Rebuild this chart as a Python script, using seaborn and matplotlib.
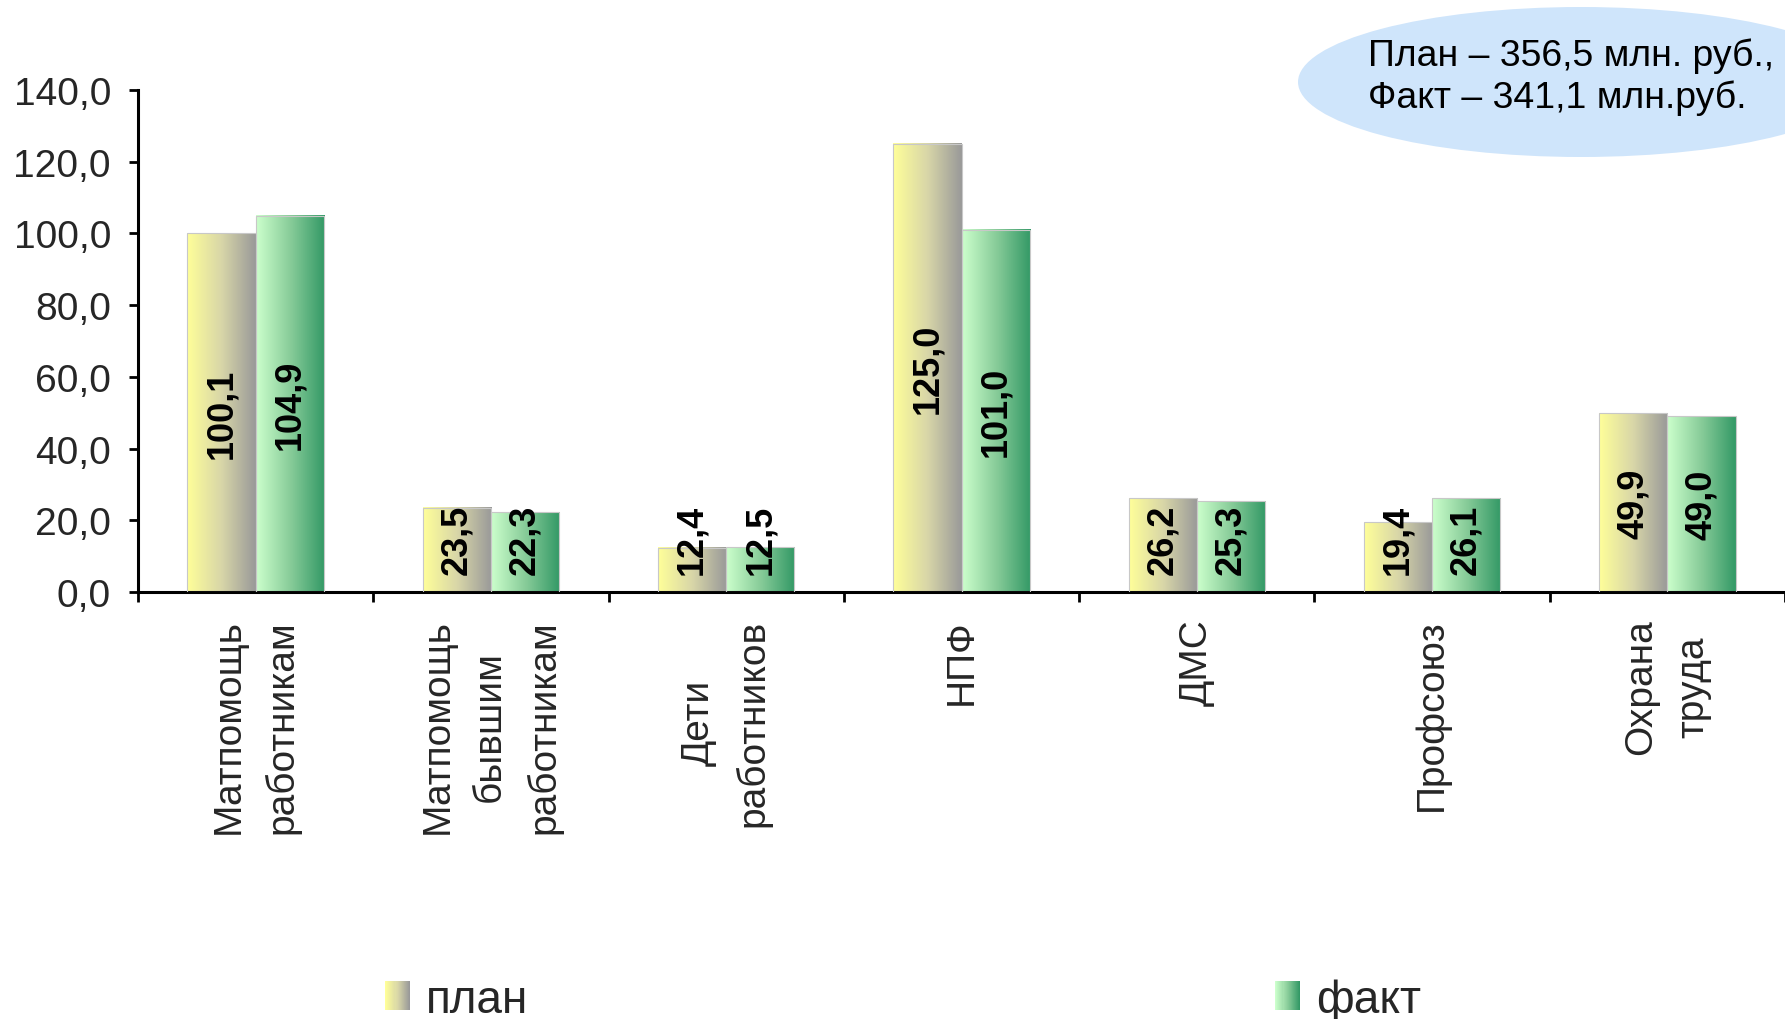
import numpy as np
import pandas as pd
import matplotlib
matplotlib.use("Agg")
import matplotlib.pyplot as plt
import seaborn as sns
from matplotlib.patches import Ellipse, Rectangle, Patch
from matplotlib.colors import LinearSegmentedColormap, to_hex
from matplotlib.legend_handler import HandlerBase

# ---------------- data ----------------
categories = ["Матпомощь\nработникам", "Матпомощь\nбывшим\nработникам",
              "Дети\nработников", "НПФ", "ДМС", "Профсоюз", "Охрана\nтруда"]
plan = [100.1, 23.5, 12.4, 125.0, 26.2, 19.4, 49.9]
fact = [104.9, 22.3, 12.5, 101.0, 25.3, 26.1, 49.0]
series = ["план", "факт"]
yticks = [0, 20, 40, 60, 80, 100, 120, 140]
note = "План – 356,5 млн. руб.,\nФакт – 341,1 млн.руб."

df = pd.DataFrame({
    "cat": categories * 2,
    "series": [series[0]] * len(plan) + [series[1]] * len(fact),
    "value": plan + fact,
})

# ---------------- style ----------------
sns.set_style("white")
plt.rcParams["font.family"] = ["Liberation Sans", "DejaVu Sans"]

base_colors = {"план": "#FFFF99", "факт": "#CCFFCC"}
cmaps = {
    "план": LinearSegmentedColormap.from_list("plan", ["#FFFF99", "#D8D6A8", "#999999"]),
    "факт": LinearSegmentedColormap.from_list("fact", ["#CCFFCC", "#88CC99", "#339966"]),
}

fig = plt.figure(figsize=(17.85, 10.2), dpi=100)
ax = fig.add_axes([138 / 1785, 427 / 1020, 1 - 138 / 1785, 502 / 1020])
ax.patch.set_visible(False)

sns.barplot(data=df, x="cat", y="value", hue="series", palette=base_colors,
            width=0.58, gap=0, dodge=True, legend=False, saturation=1,
            edgecolor="#C8C8C8", linewidth=0.8, ax=ax)

grad = np.linspace(0, 1, 256).reshape(1, -1)
plan_hex = to_hex(base_colors["план"])
for p in list(ax.patches):
    key = "план" if to_hex(p.get_facecolor()) == plan_hex else "факт"
    x, y, w, h = p.get_x(), p.get_y(), p.get_width(), p.get_height()
    ax.imshow(grad, cmap=cmaps[key], extent=[x, x + w, y, y + h],
              aspect="auto", origin="lower", zorder=2, interpolation="bilinear")
    p.set_facecolor("none")
    p.set_zorder(3)
    # value label
    v = h
    txt = f"{v:.1f}".replace(".", ",")
    if v < 30:
        ax.text(x + w / 2, 5.0, txt, rotation=90, ha="center", va="bottom",
                fontsize=26, fontweight="bold", color="black", zorder=5)
    else:
        ax.text(x + w / 2, v / 2, txt, rotation=90, ha="center", va="center",
                fontsize=26, fontweight="bold", color="black", zorder=5)

ax.set_xlim(-0.5, len(categories) - 0.5)
ax.set_ylim(0, 140)
ax.set_yticks(yticks)
ax.set_yticklabels([f"{t:.1f}".replace(".", ",") for t in yticks], fontsize=28)
ax.set_xticks(range(len(categories)))
ax.set_xticklabels(categories, rotation=90, ha="center", va="top",
                   multialignment="center", linespacing=1.6, fontsize=28)
ax.set_xticks(np.arange(-0.5, len(categories), 1), minor=True)
ax.set_xlabel("")
ax.set_ylabel("")

ax.tick_params(axis="x", which="major", length=0, pad=19, bottom=True)
ax.tick_params(axis="x", which="minor", length=7, width=2, direction="out",
               color="black", bottom=True)
ax.tick_params(axis="y", which="major", length=6.5, width=2, direction="out",
               color="black", left=True, pad=13)
for s in ["top", "right"]:
    ax.spines[s].set_visible(False)
for s in ["left", "bottom"]:
    ax.spines[s].set_color("black")
    ax.spines[s].set_linewidth(2.2)

# ---------------- ellipse note ----------------
ell = Ellipse((1581 / 1785, 1 - 83 / 1020), 566 / 1785, 150 / 1020,
              transform=fig.transFigure, facecolor="#CFE5FB", edgecolor="none", zorder=1)
fig.add_artist(ell)
fig.text(1368 / 1785, 1 - 38 / 1020, note, fontsize=26.9, ha="left", va="top",
         linespacing=1.25, color="black", zorder=2)


# ---------------- legend ----------------
class GradientHandler(HandlerBase):
    def __init__(self, cmap):
        super().__init__()
        self.cmap = cmap

    def create_artists(self, legend, orig_handle, xdescent, ydescent,
                       width, height, fontsize, trans):
        n = 24
        arts = []
        for i in range(n):
            r = Rectangle((-xdescent + i * width / n, -ydescent), width / n * 1.05, height,
                          facecolor=self.cmap(i / (n - 1)), edgecolor="none",
                          transform=trans)
            arts.append(r)
        return arts


handles = [Patch(label=series[0]), Patch(label=series[1])]
fig.legend(handles=handles, labels=series,
           handler_map={handles[0]: GradientHandler(cmaps["план"]),
                        handles[1]: GradientHandler(cmaps["факт"])},
           loc="center left", bbox_to_anchor=(385 / 1785, 0.019), ncol=2,
           frameon=False, fontsize=33, handlelength=0.55, handleheight=0.58,
           handletextpad=0.34, columnspacing=16.3, borderpad=0, borderaxespad=0)

fig.savefig("out.png", dpi=100)
